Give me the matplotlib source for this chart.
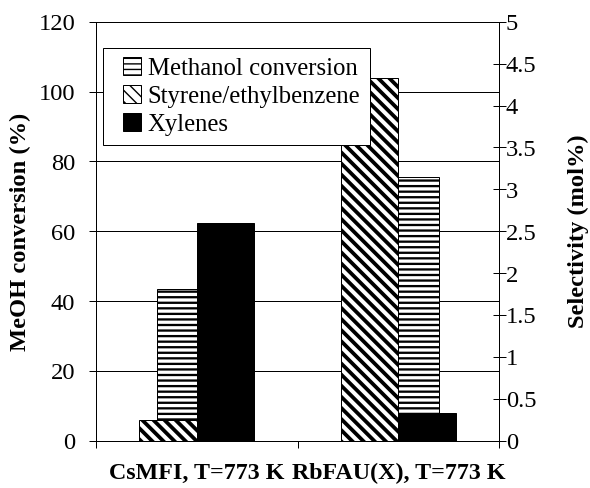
import matplotlib
matplotlib.use("Agg")
import matplotlib.pyplot as plt
import numpy as np
from matplotlib.patches import Patch, Rectangle
from matplotlib.legend_handler import HandlerPatch

DPI = 100
W, H = 590, 488


def pt(px):
    """Convert a size in pixels to points at the figure dpi."""
    return px * 72.0 / DPI


# ---- data -----------------------------------------------------------------
catalysts = ["CsMFI, T=773 K", "RbFAU(X), T=773 K"]
methanol_conversion = [43.5, 75.5]      # MeOH conversion (%), left axis
styrene_ethylbenzene = [0.25, 4.33]     # selectivity (mol%), right axis
xylenes = [2.6, 0.33]                   # selectivity (mol%), right axis

left_ticks = [0, 20, 40, 60, 80, 100, 120]
right_ticks = [0, 0.5, 1, 1.5, 2, 2.5, 3, 3.5, 4, 4.5, 5]
right_tick_labels = ["0", "0.5", "1", "1.5", "2", "2.5", "3", "3.5", "4", "4.5", "5"]

series_labels = ["Methanol conversion", "Styrene/ethylbenzene", "Xylenes"]

# ---- style ------------------------------------------------------------------
plt.rcParams["font.family"] = ["Liberation Serif", "DejaVu Serif"]
TICK_FS = pt(24.5)
LABEL_FS = pt(24.5)
CAT_FS = pt(24)
LEGEND_FS = pt(24.7)
LINE_W = pt(1)

H_LINES = "---"         # horizontal stripes
DIAG = "\\\\\\"         # diagonal stripes
H_LW = pt(2.3)
D_LW = pt(3.8)


def hatched_bar(axis, xs, heights, width, hatch, hlw, face="white"):
    with plt.rc_context({"hatch.linewidth": hlw, "hatch.color": "black"}):
        bars = axis.bar(xs, heights, width=width, facecolor=face,
                        edgecolor="black", linewidth=LINE_W, hatch=hatch)
        for b in bars:
            if hasattr(b, "set_hatch_linewidth"):
                b.set_hatch_linewidth(hlw)
    return bars


fig = plt.figure(figsize=((W + 0.3) / DPI, (H + 0.3) / DPI), dpi=DPI)
fig.patch.set_facecolor("white")

# plot area (pixel box: left, right, bottom, top measured from the top edge)
px_l, px_r, px_b, px_t = 96, 499, 441, 22
ax = fig.add_axes([px_l / W, (H - px_b) / H, (px_r - px_l) / W, (px_b - px_t) / H])
ax2 = ax.twinx()

x = np.arange(len(catalysts))
gap = 1.5
w_primary = 1.0 / (1.0 + gap)
w_secondary = 1.0 / (2.0 + gap)

# primary axis: methanol conversion
hatched_bar(ax, x, methanol_conversion, w_primary, H_LINES, H_LW)
# secondary axis: selectivities, clustered side by side
hatched_bar(ax2, x - w_secondary / 2, styrene_ethylbenzene, w_secondary, DIAG, D_LW)
ax2.bar(x + w_secondary / 2, xylenes, width=w_secondary, facecolor="black",
        edgecolor="black", linewidth=LINE_W)

ax.set_xlim(-0.5, len(catalysts) - 0.5)
ax.set_ylim(0, 120)
ax2.set_ylim(0, 5)

# horizontal gridlines from the left axis
ax.set_axisbelow(True)
ax.yaxis.grid(True, color="black", linewidth=LINE_W)
ax.set_yticks(left_ticks)
ax.set_yticklabels([str(v) for v in left_ticks])
ax2.set_yticks(right_ticks)
ax2.set_yticklabels(right_tick_labels)

# category axis: ticks on the boundaries, labels at the centres
ax.set_xticks(np.arange(-0.5, len(catalysts), 1.0))
ax.set_xticklabels([])
ax.set_xticks(x, minor=True)
ax.set_xticklabels(catalysts, minor=True, fontsize=CAT_FS, fontweight="bold")
ax.tick_params(axis="x", which="major", direction="out", length=pt(7), width=LINE_W)
ax.tick_params(axis="x", which="minor", length=0, pad=pt(22))

ax.tick_params(axis="y", direction="out", length=pt(7), width=LINE_W,
               labelsize=TICK_FS, pad=pt(14))
ax2.tick_params(axis="y", direction="inout", length=pt(13), width=LINE_W,
                labelsize=TICK_FS, pad=pt(0))

for a in (ax, ax2):
    a.spines["top"].set_visible(False)
    for s in a.spines.values():
        s.set_linewidth(LINE_W)
        s.set_color("black")
ax2.spines["left"].set_visible(False)

ax.set_ylabel("MeOH conversion (%)", fontsize=LABEL_FS, fontweight="bold", labelpad=pt(7))
ax2.set_ylabel("Selectivity (mol%)", fontsize=LABEL_FS, fontweight="bold",
               rotation=90, labelpad=pt(31))

# legend: small square keys inset from the frame
KEY_OFFSET = pt(10)
KEY_SIZE = pt(18)


def square_key(legend, orig_handle, xdescent, ydescent, width, height, fontsize):
    return Rectangle((-xdescent + KEY_OFFSET, -ydescent + (height - KEY_SIZE) / 2),
                     KEY_SIZE, KEY_SIZE)


with plt.rc_context({"hatch.linewidth": H_LW}):
    h1 = Patch(facecolor="white", edgecolor="black", hatch=H_LINES, linewidth=LINE_W)
with plt.rc_context({"hatch.linewidth": D_LW}):
    h2 = Patch(facecolor="white", edgecolor="black", hatch=DIAG, linewidth=LINE_W)
h3 = Patch(facecolor="black", edgecolor="black", linewidth=LINE_W)

leg_l, leg_t = 103, 48
key_handler = HandlerPatch(patch_func=square_key)
leg = ax2.legend([h1, h2, h3], series_labels, loc="upper left",
                 bbox_to_anchor=((leg_l - px_l) / (px_r - px_l), (px_b - leg_t) / (px_b - px_t)),
                 borderaxespad=0, fontsize=LEGEND_FS, frameon=True, fancybox=False,
                 edgecolor="black", framealpha=1, handlelength=28 / 24.7, handleheight=0.7,
                 handletextpad=0.28, labelspacing=0.235, borderpad=0.39,
                 handler_map={Patch: key_handler})
leg.get_frame().set_linewidth(LINE_W)

fig.savefig("out.png", dpi=DPI, facecolor="white")
